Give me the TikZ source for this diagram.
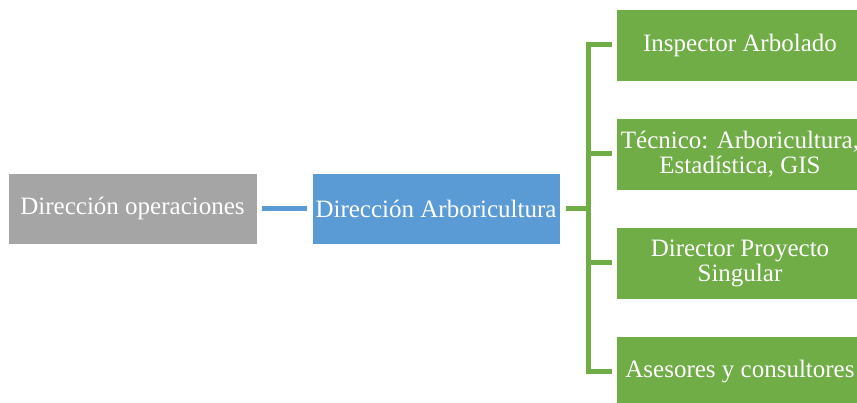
\documentclass[tikz,border=0pt]{standalone}
\usepackage{fontspec}
\setmainfont{Liberation Serif}
\definecolor{greybox}{HTML}{A5A5A5}
\definecolor{bluebox}{HTML}{5B9BD5}
\definecolor{greenbox}{HTML}{70AD47}
\tikzset{
  orgbox/.style={rectangle, draw=white, line width=0.8pt, text=white, align=center,
    minimum width=248pt, minimum height=71pt, inner sep=1pt,
    font=\fontsize{25}{25}\selectfont},
  blueline/.style={draw=bluebox, line width=5pt},
  greenline/.style={draw=greenbox, line width=5pt},
}
\begin{document}
\begin{tikzpicture}[x=1pt,y=1pt]
\useasboundingbox (0,0) rectangle (857,403);
\clip (0,0) rectangle (857,403);
\node[orgbox, fill=greybox, minimum width=249pt] (ops) at (132.5,194.5) {Dirección operaciones};
\node[orgbox, fill=bluebox] (arb) at (436,194.5) {Dirección Arboricultura};
\node[orgbox, fill=greenbox, minimum height=72pt] (g1) at (740,358) {Inspector Arbolado};
\node[orgbox, fill=greenbox, minimum height=72pt] (g2) at (740,249) {Técnico: Arboricultura,\\Estadística, GIS};
\node[orgbox, fill=greenbox, minimum height=72pt] (g3) at (740,140) {Director Proyecto\\Singular};
\node[orgbox, fill=greenbox, minimum height=72pt] (g4) at (740,31) {Asesores y consultores};
\coordinate (trunk) at (588,0);
\draw[blueline] ([xshift=5pt]ops.east) -- ([xshift=-5pt]arb.west);
\draw[greenline] ([xshift=6pt]arb.east) -- (arb.east -| trunk);
\draw[greenline] ([yshift=2.5pt]g1.west -| trunk) -- ([yshift=-2.5pt]g4.west -| trunk);
\foreach \g in {g1,g2,g3,g4}{
  \draw[greenline] (\g.west -| trunk) -- ([xshift=-4pt]\g.west);
}
\end{tikzpicture}
\end{document}
